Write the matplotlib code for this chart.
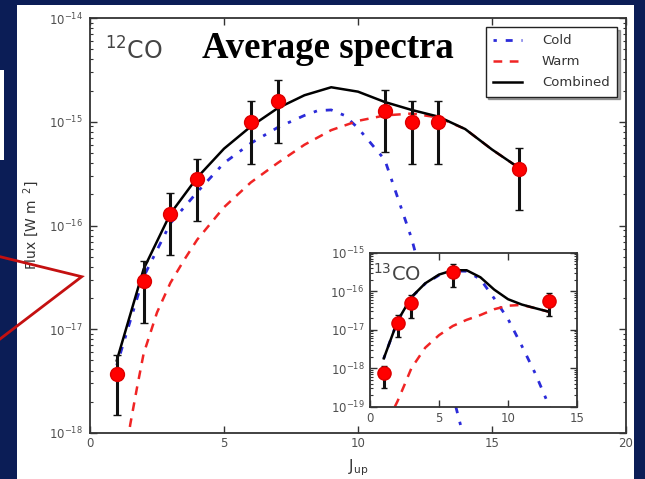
import matplotlib
matplotlib.use('Agg')
import matplotlib.pyplot as plt
import matplotlib.patches as mp
import matplotlib.lines as ml
from matplotlib.ticker import LogLocator, FixedLocator, NullFormatter
import numpy as np

# 12CO observed line fluxes (W m^-2)
j_obs = np.array([1, 2, 3, 4, 6, 7, 11, 12, 13, 16])
flux_obs = np.array([3.7e-18, 2.9e-17, 1.28e-16, 2.8e-16, 1.0e-15, 1.6e-15, 1.28e-15, 1.0e-15, 1.0e-15, 3.5e-16])
flux_lo = np.array([1.5e-18, 1.15e-17, 5.2e-17, 1.1e-16, 3.9e-16, 6.3e-16, 5.1e-16, 3.9e-16, 3.9e-16, 1.4e-16])
flux_hi = np.array([5.7e-18, 4.5e-17, 2.05e-16, 4.4e-16, 1.58e-15, 2.5e-15, 2.04e-15, 1.58e-15, 1.58e-15, 5.6e-16])

# 12CO model curves
j_cold = [1, 2, 3, 4, 5, 6, 7, 8, 8.5, 9, 9.5, 10, 11, 12, 13, 14]
cold = [4.5e-18, 3.2e-17, 1.05e-16, 2.1e-16, 4.0e-16, 6.2e-16, 8.8e-16, 1.15e-15, 1.28e-15,
        1.3e-15, 1.15e-15, 8.7e-16, 4.3e-16, 7.5e-17, 8e-18, 8e-19]
j_warm = [1.4, 1.5, 1.75, 2, 2.5, 3, 3.5, 4, 5, 6, 7, 8, 9, 10, 11, 12, 13, 14, 15, 16]
warm = [8e-19, 1.2e-18, 2.7e-18, 5.8e-18, 1.45e-17, 2.8e-17, 4.6e-17, 7.3e-17, 1.5e-16, 2.6e-16,
        4.0e-16, 6.0e-16, 8.3e-16, 1.02e-15, 1.15e-15, 1.2e-15, 1.1e-15, 8.5e-16, 5.4e-16, 3.6e-16]
j_comb = [1, 2, 3, 4, 5, 6, 7, 8, 9, 10, 11, 12, 13, 14, 15, 16]
comb = [5e-18, 3.8e-17, 1.3e-16, 2.9e-16, 5.5e-16, 9e-16, 1.35e-15, 1.8e-15, 2.15e-15, 1.95e-15,
        1.55e-15, 1.3e-15, 1.12e-15, 8.5e-16, 5.4e-16, 3.6e-16]

# 13CO (inset)
j13_obs = np.array([1, 2, 3, 6, 13])
f13_obs = np.array([7.4e-19, 1.5e-17, 5e-17, 3.1e-16, 5.6e-17])
f13_lo = np.array([3e-19, 6.3e-18, 2e-17, 1.3e-16, 2.3e-17])
f13_hi = np.array([1.15e-18, 2.4e-17, 7.9e-17, 5e-16, 8.9e-17])
j13_cold = [1, 2, 3, 4, 5, 6, 7, 8, 9, 10, 11, 12, 13, 14]
cold13 = [1.8e-18, 1.7e-17, 6.9e-17, 1.57e-16, 2.6e-16, 3.35e-16, 3.3e-16, 2.05e-16, 6.5e-17,
          1.9e-17, 3.8e-18, 7e-19, 1e-19, 1e-20]
j13_warm = [1.8, 2, 2.5, 3, 4, 5, 6, 7, 8, 9, 10, 11, 12, 13]
warm13 = [1e-19, 1.4e-19, 3.7e-19, 1e-18, 3.4e-18, 7.2e-18, 1.25e-17, 1.8e-17, 2.4e-17, 3.4e-17,
          4.2e-17, 4.4e-17, 3.6e-17, 2.9e-17]
j13_comb = [1, 2, 3, 4, 5, 6, 7, 8, 9, 10, 11, 12, 13]
comb13 = [1.8e-18, 1.7e-17, 7e-17, 1.6e-16, 2.7e-16, 3.5e-16, 3.5e-16, 2.3e-16, 1.1e-16, 6.2e-17,
          4.5e-17, 3.6e-17, 2.9e-17]

navy = '#0b1d56'
gray = '#505050'
cold_c = '#2b2bd9'
warm_c = '#f02424'

fig = plt.figure(figsize=(6.45, 4.79), dpi=100)
fig.patch.set_facecolor(navy)
W, H = 645., 479.

def px(x0, y0, w, h):
    # pixel box (top-left origin) -> figure fraction
    return [x0 / W, 1 - (y0 + h) / H, w / W, h / H]

# white slide panel
b = px(17, 5, 617, 474)
fig.add_artist(mp.Rectangle((b[0], b[1]), b[2], b[3], transform=fig.transFigure,
                            facecolor='white', edgecolor='none', zorder=0))
b = px(0, 70, 4, 90)
fig.add_artist(mp.Rectangle((b[0], b[1]), b[2], b[3], transform=fig.transFigure,
                            facecolor='white', edgecolor='none', zorder=0))

def style_axes(ax):
    for s in ax.spines.values():
        s.set_color('#333333')
        s.set_linewidth(1.3)
    ax.tick_params(which='both', direction='in', top=True, right=True,
                   colors='#333333', labelcolor=gray, labelsize=8.5, pad=5)
    ax.tick_params(which='major', length=5, width=1)
    ax.tick_params(which='minor', length=2.5, width=0.8)

# main axes
ax = fig.add_axes(px(90, 18, 536, 415))
ax.set_facecolor('white')
ax.set_yscale('log')
ax.plot(j_cold, cold, color=cold_c, lw=2, dashes=[1.2, 3.2, 2.5, 3.2], label='Cold')
ax.plot(j_warm, warm, color=warm_c, lw=1.8, dashes=[3.5, 3], label='Warm')
ax.plot(j_comb, comb, color='black', lw=1.8, label='Combined')
ax.errorbar(j_obs, flux_obs, yerr=[flux_obs - flux_lo, flux_hi - flux_obs], fmt='none',
            ecolor='#111111', elinewidth=2.2, capsize=3, capthick=1, zorder=3)
ax.plot(j_obs, flux_obs, 'o', color='red', mec='#dd0000', ms=10, zorder=4)
ax.set_xlim(0, 20)
ax.set_ylim(1e-18, 1e-14)
ax.xaxis.set_major_locator(FixedLocator([0, 5, 10, 15, 20]))
ax.yaxis.set_major_locator(LogLocator(base=10))
ax.yaxis.set_minor_locator(LogLocator(base=10, subs=np.arange(2, 10)))
ax.yaxis.set_minor_formatter(NullFormatter())
style_axes(ax)
ax.tick_params(axis='x', pad=3)
ax.set_ylabel('Flux [W m$^{\\ \\ 2}$]', color='#333333', fontsize=10, labelpad=6)
ax.set_xlabel('J$_{\\rm up}$', color='#333333', fontsize=11, labelpad=5)

ax.text(0.028, 0.899, '$^{12}$CO', transform=ax.transAxes, fontsize=17, color='#444444',
        va='baseline', ha='left')
ax.text(0.443, 0.903, 'Average spectra', transform=ax.transAxes, fontsize=26.5,
        fontweight='bold', family='Liberation Serif', color='black', ha='center', va='baseline')

leg = ax.legend(loc='upper right', fontsize=9.5, frameon=True, shadow=True, fancybox=False,
                borderaxespad=0.7, labelspacing=0.6, handlelength=2.2, handletextpad=1.5,
                borderpad=0.55)
leg.get_frame().set_edgecolor('#222222')
leg.get_frame().set_linewidth(1.0)
for t in leg.get_texts():
    t.set_color('#333333')

# inset: 13CO
ins = fig.add_axes(px(370, 252.7, 207, 154))
ins.set_facecolor('white')
ins.set_yscale('log')
ins.plot(j13_cold, cold13, color=cold_c, lw=2, dashes=[1.2, 3.2, 2.5, 3.2])
ins.plot(j13_warm, warm13, color=warm_c, lw=1.8, dashes=[3.5, 3])
ins.plot(j13_comb, comb13, color='black', lw=1.8)
ins.errorbar(j13_obs, f13_obs, yerr=[f13_obs - f13_lo, f13_hi - f13_obs], fmt='none',
             ecolor='#111111', elinewidth=2.2, capsize=2.5, capthick=1, zorder=3)
ins.plot(j13_obs, f13_obs, 'o', color='red', mec='#dd0000', ms=9.5, zorder=4)
ins.set_xlim(0, 15)
ins.set_ylim(1e-19, 1e-15)
ins.xaxis.set_major_locator(FixedLocator([0, 5, 10, 15]))
ins.yaxis.set_major_locator(LogLocator(base=10))
ins.yaxis.set_minor_locator(LogLocator(base=10, subs=np.arange(2, 10)))
ins.yaxis.set_minor_formatter(NullFormatter())
style_axes(ins)
ins.tick_params(labelsize=8.5, pad=4)
ins.text(0.015, 0.82, '$^{13}$CO', transform=ins.transAxes, fontsize=14, color='#444444',
         va='baseline', ha='left')

# red callout
xs = [0 / W, 81.7 / W, 0 / W]
ys = [1 - 256.7 / H, 1 - 276.7 / H, 1 - 339 / H]
fig.add_artist(ml.Line2D(xs, ys, transform=fig.transFigure, color='#c41010', lw=2,
                         solid_joinstyle='miter', zorder=10))

fig.savefig('out.png', dpi=100, facecolor=fig.get_facecolor())
